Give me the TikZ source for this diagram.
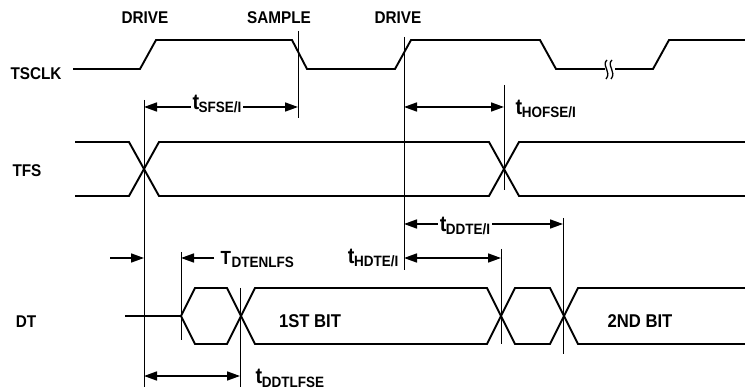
\documentclass[tikz,border=0pt]{standalone}
\usepackage{fontspec}
\setmainfont{Liberation Sans}[FakeStretch=0.9]
\usetikzlibrary{arrows.meta}
\newcommand{\tsub}[2]{{\fontsize{22}{22}\selectfont #1}\kern-0.5pt\raisebox{-3pt}{\fontsize{15}{15}\selectfont #2}}
\newcommand{\Tsub}[2]{{\fontsize{19}{19}\selectfont #1}\kern0.5pt\raisebox{-3pt}{\fontsize{15}{15}\selectfont #2}}
\begin{document}
\begin{tikzpicture}[x=1pt,y=-1pt,
  sig/.style={line width=1.9pt, line join=miter},
  refl/.style={line width=0.8pt},
  tip/.tip={Triangle[length=13pt,width=9pt]},
  dim/.style={line width=1.7pt, tip-tip},
  onedim/.style={line width=1.7pt, -tip},
  lbl/.style={font=\bfseries\fontsize{17}{17}\selectfont, inner sep=0pt},
  bitl/.style={font=\bfseries\fontsize{18.5}{18.5}\selectfont, inner sep=0pt},
  tl/.style={font=\bfseries, inner sep=1.5pt},
  tlw/.style={font=\bfseries, inner sep=1.5pt, fill=white}]
\useasboundingbox (0,0) rectangle (745,390);

% labels
\node[lbl, anchor=base] (drive1) at (145,24) {DRIVE};
\node[lbl, anchor=base] (sample) at (279,24) {SAMPLE};
\node[lbl, anchor=base] (drive2) at (398,24) {DRIVE};
\node[lbl, anchor=base] (tsclk) at (36,80) {TSCLK};
\node[lbl, anchor=base] (tfs) at (27,177) {TFS};
\node[lbl, anchor=base] (dt) at (26,327) {DT};
\node[bitl, anchor=base] (bit1) at (310,327) {1ST BIT};
\node[bitl, anchor=base] (bit2) at (640,327) {2ND BIT};

% TSCLK waveform
\draw[sig] (73,69) -- (140,69) -- (156,40) -- (292,40) -- (307,69) -- (395,69)
  -- (411,40) -- (540,40) -- (556,69) -- (605,69);
\draw[sig] (615,69) -- (653,69) -- (669,40) -- (745,40);
\draw[line width=1.3pt] (607,60) .. controls (601,65) and (612,72) .. (606,79);
\draw[line width=1.3pt] (612,60) .. controls (606,65) and (617,72) .. (611,79);

% TFS waveform
\draw[sig] (75,142) -- (129,142) -- (159,196) -- (489,196) -- (519,142) -- (745,142);
\draw[sig] (75,196) -- (129,196) -- (159,142) -- (489,142) -- (519,196) -- (745,196);

% DT waveform
\draw[sig] (125,316) -- (181,316);
\draw[sig] (181,316) -- (195,288) -- (227,288) -- (255,344) -- (487,344) -- (515,288)
  -- (550,288) -- (578,344) -- (745,344);
\draw[sig] (181,316) -- (195,344) -- (227,344) -- (255,288) -- (487,288) -- (515,344)
  -- (550,344) -- (578,288) -- (745,288);

% reference lines
\draw[refl] (144,100) -- (144,387);
\draw[refl] (298,31) -- (298,118);
\draw[refl] (404,37) -- (404,270);
\draw[refl] (504,85) -- (504,190);
\draw[refl] (181,252) -- (181,340);
\draw[refl] (240,288) -- (240,387);
\draw[refl] (501,249) -- (501,344);
\draw[refl] (563,218) -- (563,354);

% dimension arrows
\coordinate (s1a) at (144,107); \coordinate (s1b) at (298,107);
\draw[dim] (s1a) -- (s1b);
\node[tlw, anchor=base] (tsfse) at (217,110) {\tsub{t}{SFSE/I}};

\coordinate (h1a) at (404,107); \coordinate (h1b) at (504,107);
\draw[dim] (h1a) -- (h1b);
\node[tl, anchor=base west] (thofse) at (514,115) {\tsub{t}{HOFSE/I}};

\coordinate (d1a) at (404,224); \coordinate (d1b) at (563,224);
\draw[dim] (d1a) -- (d1b);
\node[tlw, anchor=base] (tddte) at (465,232) {\tsub{t}{DDTE/I}};

\coordinate (h2a) at (404,258); \coordinate (h2b) at (501,258);
\draw[dim] (h2a) -- (h2b);
\node[tl, anchor=base east] (thdte) at (400,264) {\tsub{t}{HDTE/I}};

\coordinate (e1a) at (110,258); \coordinate (e1b) at (144,258);
\draw[onedim] (e1a) -- (e1b);
\coordinate (e2a) at (214,258); \coordinate (e2b) at (181,258);
\draw[onedim] (e2a) -- (e2b);
\node[tl, anchor=base west] (tdtenlfs) at (219,265) {\Tsub{T}{DTENLFS}};

\coordinate (l1a) at (144,376); \coordinate (l1b) at (240,376);
\draw[dim] (l1a) -- (l1b);
\node[tl, anchor=base west] (tddtlfse) at (254,384) {\tsub{t}{DDTLFSE}};
\end{tikzpicture}
\end{document}
